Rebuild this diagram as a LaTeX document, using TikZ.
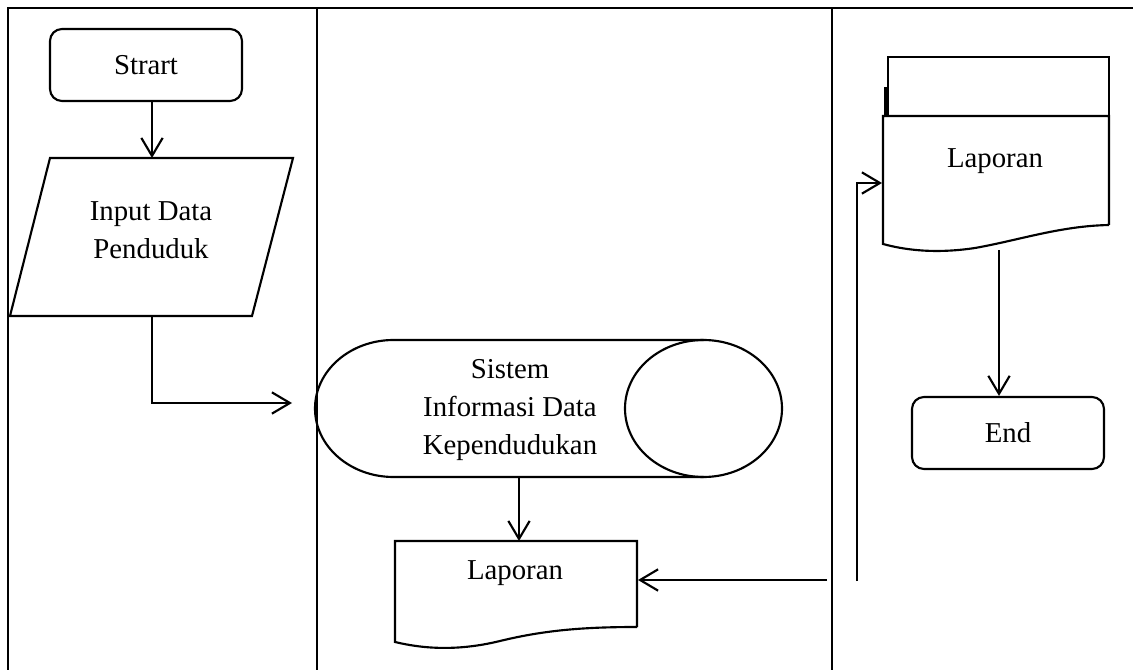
\documentclass[tikz,border=0pt]{standalone}
\usetikzlibrary{arrows.meta}
\usepackage{fontspec}
\setmainfont{Liberation Serif}
\begin{document}
\begin{tikzpicture}[x=0.75pt,y=-0.75pt,
  tbl/.style={line width=2.1pt},
  shp/.style={line width=1.6pt, line join=miter},
  arr/.style={line width=1.6pt, -{Straight Barb[length=13.5pt,width=16pt,line width=1.6pt]}},
  txt/.style={font=\fontsize{21.6}{28.5}\selectfont, align=center, inner sep=0pt},
  term/.style={shp, draw, rounded corners=9pt, minimum width=144pt, minimum height=54pt, inner sep=0pt, font=\fontsize{21.6}{28.5}\selectfont},
  line cap=butt]
\useasboundingbox (0,0) rectangle (1133,670);
% table
\draw[tbl] (1133,8) -- (8,8) -- (8,670);
\draw[tbl] (317,8) -- (317,670);
\draw[tbl] (832,8) -- (832,670);

% Start
\node[term] (start) at (146,65) {Strart};

% Input parallelogram
\coordinate (inpTL) at (50,158);
\coordinate (inpTR) at (293,158);
\coordinate (inpBR) at (252,316);
\coordinate (inpBL) at (10,316);
\draw[shp] (inpTL) -- (inpTR) -- (inpBR) -- (inpBL) -- cycle;
\node[txt] (inp) at (151,230) {Input Data\\Penduduk};
\coordinate (inpT) at (152,158);
\coordinate (inpB) at (152,316);
\draw[arr] (inpT |- start.south) -- (inpT);

% Drum (direct access storage)
\node[minimum width=350.25pt, minimum height=102.75pt, inner sep=0pt] (drum) at (548.5,408.5) {};
\draw[shp] (703.5,340) -- (393.5,340) arc[start angle=270, end angle=90, x radius=78.5, y radius=68.5] -- (703.5,477);
\draw[shp] (703.5,408.5) ellipse [x radius=78.5, y radius=68.5];
\node[txt] (drumtxt) at (510,410) {Sistem\\Informasi Data\\Kependudukan};
\coordinate (drumW) at (292,403);
\draw[arr] (inpB) -- (inpB |- drumW) -- (drumW);

% Bottom document Laporan
\node[minimum width=181.5pt, minimum height=75pt, inner sep=0pt] (lap1) at (516,591) {};
\draw[shp] (637,627) -- (637,541) -- (395,541) -- (395,642)
  .. controls (420,648) and (455,652) .. (500,641)
  .. controls (545,630) and (585,627) .. (637,627);
\node[txt] (lap1txt) at (515,573) {Laporan};
\coordinate (drumB) at (519,477);
\coordinate (lap1T) at (519,541);
\draw[arr] (drumB) -- (lap1T);
\coordinate (lap1E) at (638,580);
\coordinate (retA) at (827,580);
\draw[arr] (retA) -- (lap1E);

% Top-right multi document
\draw[shp] (888,116) -- (888,57) -- (1109,57) -- (1109,116);
\draw[shp] (888,88) -- (885.5,88) -- (885.5,116);
\node[minimum width=169.5pt, minimum height=90pt, inner sep=0pt] (lap2) at (996,176) {};
\draw[shp, fill=white] (1109,225) -- (1109,116) -- (883,116) -- (883,244)
  .. controls (905,250) and (935,254) .. (975,248)
  .. controls (1020,240) and (1060,226) .. (1109,225);
\node[txt] (lap2txt) at (995,161) {Laporan};
\coordinate (retB) at (857,581);
\coordinate (lap2W) at (882,183);
\draw[arr] (retB) -- (retB |- lap2W) -- (lap2W);

% End
\node[term] (end) at (1008,433) {End};
\coordinate (lap2B) at (999,250);
\draw[arr] (lap2B) -- (lap2B |- end.north);
\end{tikzpicture}
\end{document}
